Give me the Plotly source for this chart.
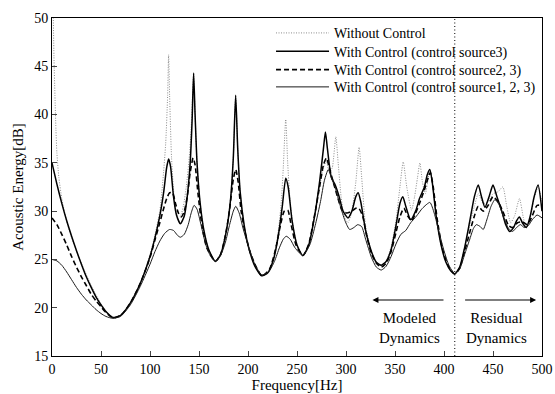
import plotly.graph_objects as go

# ---------------- data ----------------
freq_wo = [0, 1, 2, 3, 4, 5, 7, 10, 13, 17, 22, 30, 40, 50, 62, 70, 80, 90, 100, 105, 110, 113, 116, 118, 119, 120, 122, 125, 128, 131, 134, 137, 140, 142, 144.5, 146, 148, 151, 155, 160, 166.7, 172, 178, 182, 185, 187.4, 189.5, 192, 196, 200, 207, 214, 220, 226, 231, 234, 236, 238.5, 240.5, 243, 246, 250, 256, 262, 268, 273, 277, 280, 283, 286, 289.6, 292, 295, 298, 302, 306, 310, 313.4, 316, 320, 326, 331, 336, 341, 346, 351, 355, 358.4, 362, 366.9, 370, 373, 375.4, 378, 381, 384, 385.6, 388, 392, 397, 402, 407, 411, 416, 421, 426, 431, 435, 440, 445, 450, 455, 460, 464, 468, 472, 477, 481, 484, 488, 492, 496, 500]
db_wo = [56, 52, 46, 42, 38.5, 36, 33.5, 31.3, 29.8, 28.2, 26.7, 24.6, 22.3, 20.4, 18.9, 19.2, 20.5, 22.5, 25.5, 27.5, 30, 33, 37, 42, 46.2, 42, 35.5, 31, 29.5, 29.5, 30.5, 32.5, 35.5, 38.5, 44.3, 40, 35, 31, 28, 26, 24.8, 25.5, 28, 31, 35.5, 42, 36.5, 32, 28.6, 26.5, 24.3, 23.3, 23.6, 25, 28, 31, 34.5, 39.5, 35, 31, 28.5, 26.5, 25.4, 26.5, 29.5, 32.5, 34.5, 35.2, 34.0, 34.5, 37.7, 35, 31.5, 29.5, 28.8, 30, 33, 36.6, 33.5, 28.5, 25.8, 24.7, 24.4, 24.8, 26.3, 29, 32.5, 35.1, 32.5, 30.1, 31.5, 33.5, 35.0, 33, 31.8, 33.5, 34.3, 33, 29.5, 26.5, 24.7, 23.8, 23.5, 24.2, 26.2, 28.5, 30.5, 31.8, 30.8, 31, 31.8, 32, 32.5, 30.5, 28.8, 29.5, 31.3, 29.3, 28.3, 29.3, 31.3, 32.5, 31.0]

freq_s3 = [0, 5, 10, 15, 20, 25, 30, 35, 40, 45, 50, 55, 62, 70, 80, 90, 100, 105, 110, 114, 117, 119, 121, 124, 127, 131, 135, 138, 141, 143, 144.5, 146, 148, 151, 155, 160, 166.7, 172, 178, 182, 185, 187.4, 189.5, 192, 196, 200, 207, 214, 220, 226, 231, 235, 238.5, 241, 245, 250, 256, 262, 268, 273, 277, 279, 281, 285, 289, 293, 297, 302, 306, 310, 312.4, 315, 320, 326, 331, 336, 341, 346, 351, 355, 358, 361, 366, 371, 375, 380, 383, 385.6, 388, 392, 397, 402, 407, 411, 416, 421, 426, 431, 435, 438, 441.8, 446, 450, 454, 459, 463, 467, 471, 474, 477, 480, 484, 488, 492, 496, 500]
db_s3 = [35, 32.8, 30.8, 29, 27.4, 25.9, 24.5, 23.2, 22.1, 21.1, 20.3, 19.6, 19.0, 19.2, 20.5, 22.5, 25.3, 27.2, 29.5, 32, 34.5, 35.4, 34.6, 31.5, 29.6, 28.7, 29.5, 31.5, 35, 39.5, 44.3, 40, 35, 31, 28, 26, 24.8, 25.5, 28, 31, 35.5, 42, 36.5, 32, 28.6, 26.5, 24.3, 23.3, 23.6, 25, 27.5, 30.5, 33.4, 32.5, 29, 26.5, 25.4, 26.5, 29.5, 33, 36.5, 38.2, 36.5, 33.5, 32.7, 31.5, 30, 29.3, 30, 31.5, 31.9, 31, 28, 25.8, 24.7, 24.4, 24.8, 26, 28.5, 30.8, 31.5, 30.5, 29.1, 30, 31.3, 32.5, 33.8, 34.3, 33, 29.5, 26.5, 24.7, 23.8, 23.5, 24.2, 26.2, 28.8, 31.5, 32.7, 31.6, 30.4, 31.5, 32.7, 31.5, 30, 28.6, 27.9, 28.3, 29, 29.4, 28.8, 28.3, 29.5, 31.5, 32.7, 30.0]

freq_s23 = [0, 5, 10, 15, 20, 25, 30, 35, 40, 45, 50, 55, 62, 70, 80, 90, 100, 105, 110, 114, 117, 120, 123, 126, 129, 132, 135, 138, 141, 144, 146, 149, 153, 158, 166.7, 172, 177, 181, 185, 187.5, 190, 193, 197, 203, 214, 222, 228, 233, 237, 240.5, 244, 249, 256, 262, 268, 273, 277, 280, 283, 287, 291, 296, 301, 306, 310, 313, 317, 321, 326, 331, 336, 341, 346, 351, 355, 359, 363, 367, 371, 375, 380, 386, 389, 393, 398, 404, 411, 416, 421, 426, 431, 435, 440, 445, 450, 455, 460, 466, 470, 475, 480, 485, 490, 495, 500]
db_s23 = [29.3, 28.6, 27.6, 26.5, 25.3, 24.2, 23.2, 22.3, 21.4, 20.7, 20.1, 19.5, 18.95, 19.2, 20.5, 22.5, 25.2, 27.0, 28.8, 30.3, 31.3, 31.9, 31.9, 30.8, 29.8, 29.4, 30.0, 31.5, 34, 35.5, 34.8, 31.8, 28.5, 26.2, 24.8, 25.5, 27.5, 30, 33.3, 34.3, 33, 30, 27.8, 25.5, 23.3, 24.0, 26, 28.5, 30, 30.1, 28.6, 26.5, 25.4, 26.6, 29.6, 32.5, 34.8, 35.5, 34.5, 33, 31.6, 30.1, 29.8, 30, 30.3, 30.3, 29.5, 27.5, 25.6, 24.6, 24.2, 24.6, 25.8, 27.8, 29.4, 30.3, 29.5, 29.0, 29.8, 30.8, 32.2, 34.0, 32.5, 29.2, 26.3, 24.4, 23.5, 24.1, 25.8, 27.7, 29.5, 30.5, 30.0, 30.6, 31.5, 31.0, 30.0, 28.5, 28.3, 28.8, 28.9, 28.6, 29.5, 30.6, 30.6]

freq_s123 = [0, 5, 10, 15, 20, 25, 30, 35, 40, 45, 50, 55, 62, 70, 80, 90, 100, 105, 110, 115, 120, 124, 128, 131, 135, 139, 142, 145, 148, 152, 157, 162, 166.7, 172, 177, 181, 185, 187.5, 191, 195, 200, 207, 214, 221, 227, 232, 236, 239, 243, 248, 256, 263, 269, 274, 278, 281.9, 285, 289, 294, 299, 303.7, 308, 312, 316, 320, 326, 331, 336, 341, 346, 351, 356, 361, 366, 372, 378, 385.6, 390, 395, 400, 405, 411, 416, 421, 426, 430, 433, 437, 440, 444, 448, 452, 456, 461, 466, 470, 474, 478, 482, 486, 490, 495, 500]
db_s123 = [25, 24.85, 24.4, 23.7, 22.9, 22.1, 21.4, 20.8, 20.3, 19.8, 19.4, 19.1, 18.9, 19.1, 20.3, 22.2, 24.5, 25.8, 26.9, 27.7, 28.1, 28, 27.5, 27.3, 27.6, 28.6, 29.8, 30.6, 30.2, 28.6, 26.5, 25.3, 24.8, 25.4, 26.8, 28.5, 30, 30.5, 29.8, 28.2, 26.5, 24.5, 23.4, 23.7, 24.8, 26.2, 27.1, 27.4, 27.1, 26.2, 25.4, 26.5, 28.7, 31, 33.2, 34.3, 33.5, 32.4, 30.6, 29, 28.1, 28.3, 28.6, 28.4, 27.1, 25.2, 24.2, 23.9, 24.3, 25.3, 26.6, 27.6, 28.0, 28.8, 29.5, 30.3, 30.9, 29.8, 27.8, 25.9, 24.4, 23.5, 24.0, 25.5, 27.0, 28.2, 28.6, 28.4, 28.1, 29.2, 30.5, 31.2, 30.7, 29.3, 28.2, 27.9, 28.3, 28.6, 28.3, 28.5, 29.1, 29.6, 29.3]

series_names = ["Without Control", "With Control (control source3)",
                "With Control (control source2, 3)", "With Control (control source1, 2, 3)"]
x_ticks = [0, 50, 100, 150, 200, 250, 300, 350, 400, 450, 500]
y_ticks = [15, 20, 25, 30, 35, 40, 45, 50]
boundary_hz = 411
arrow_db = 20.8

# ---------------- figure ----------------
FONT = "Liberation Serif"
fig = go.Figure()
styles = [
    dict(color="#8c8c8c", width=1, dash="1px,1.5px"),
    dict(color="black", width=1.5, dash="solid"),
    dict(color="black", width=1.6, dash="5px,3px"),
    dict(color="#1a1a1a", width=1, dash="solid"),
]
legend_ids = ["legend", "legend2", "legend3", "legend4"]
for fx, fy, name, st, lg in zip([freq_wo, freq_s3, freq_s23, freq_s123],
                                [db_wo, db_s3, db_s23, db_s123], series_names,
                                styles, legend_ids):
    fig.add_trace(go.Scatter(x=fx, y=fy, mode="lines", name=name, legend=lg,
                             line=dict(shape="spline", smoothing=0.6, **st)))

fig.add_shape(type="line", x0=boundary_hz, x1=boundary_hz, y0=0, y1=1,
              xref="x", yref="paper", line=dict(color="black", width=1, dash="1px,2.5px"))

fig.add_annotation(x=327, y=arrow_db, ax=401, ay=arrow_db, xref="x", yref="y",
                   axref="x", ayref="y", showarrow=True, arrowhead=2, arrowsize=1,
                   arrowwidth=1.2, arrowcolor="black", text="")
fig.add_annotation(x=494, y=arrow_db, ax=420, ay=arrow_db, xref="x", yref="y",
                   axref="x", ayref="y", showarrow=True, arrowhead=2, arrowsize=1,
                   arrowwidth=1.2, arrowcolor="black", text="")
fig.add_annotation(x=365, y=17.95, xref="x", yref="y", showarrow=False,
                   text="Modeled<br>Dynamics", align="center",
                   font=dict(family=FONT, size=15, color="black"))
fig.add_annotation(x=454, y=17.95, xref="x", yref="y", showarrow=False,
                   text="Residual<br>Dynamics", align="center",
                   font=dict(family=FONT, size=15, color="black"))

leg_common = dict(x=0.447, xanchor="left", yanchor="middle",
                  bgcolor="rgba(0,0,0,0)", borderwidth=0,
                  font=dict(family=FONT, size=14, color="black"), itemwidth=53)
row_y = [0.9547, 0.9003, 0.8462, 0.795]

fig.update_layout(
    width=555, height=394,
    margin=dict(l=52, r=13, t=18, b=38, autoexpand=False),
    paper_bgcolor="white", plot_bgcolor="white",
    font=dict(family=FONT, size=14, color="black"),
    showlegend=True,
    legend=dict(y=row_y[0], **leg_common),
    legend2=dict(y=row_y[1], **leg_common),
    legend3=dict(y=row_y[2], **leg_common),
    legend4=dict(y=row_y[3], **leg_common),
)
fig.update_xaxes(range=[0, 500], tickvals=x_ticks, ticks="inside", ticklen=5,
                 showline=True, linecolor="black", linewidth=1, mirror=True,
                 showgrid=False, zeroline=False, automargin=False,
                 tickfont=dict(family=FONT, size=14),
                 title=dict(text="Frequency[Hz]", standoff=3,
                            font=dict(family=FONT, size=15)))
fig.update_yaxes(range=[15, 50], tickvals=y_ticks, ticks="inside", ticklen=5,
                 showline=True, linecolor="black", linewidth=1, mirror=True,
                 showgrid=False, zeroline=False, automargin=False,
                 tickfont=dict(family=FONT, size=14),
                 title=dict(text="Acoustic Energy[dB]", standoff=6,
                            font=dict(family=FONT, size=15)))

fig.write_html("out.html", config={"displayModeBar": False},
               post_script="document.body.style.margin='0';document.body.style.overflow='hidden';")
